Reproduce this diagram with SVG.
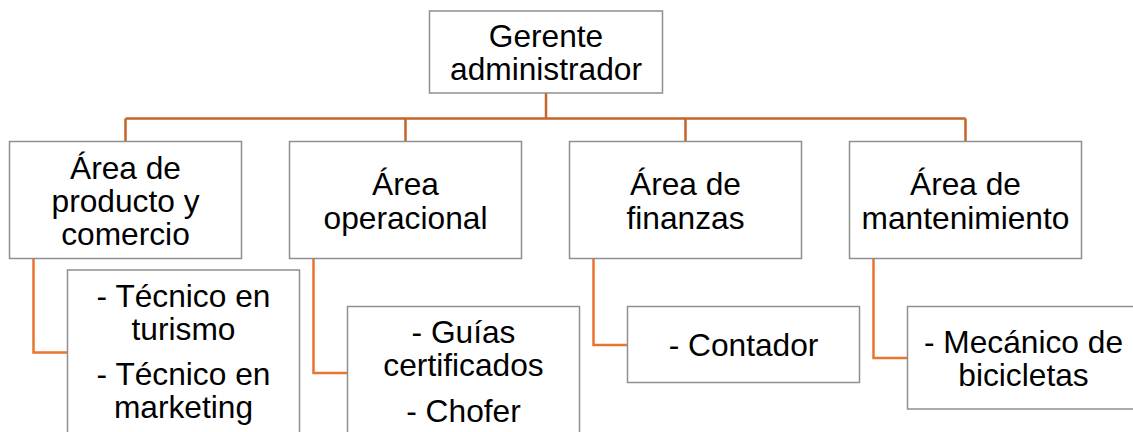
<svg xmlns="http://www.w3.org/2000/svg" width="1133" height="432" viewBox="0 0 1133 432">
<style>
.box{fill:#ffffff;stroke:#8f8f8f;stroke-width:1.5}
.t{font-family:"Liberation Sans",Arial,sans-serif;font-size:31.7px;fill:#000000;text-anchor:middle}
.c1{fill:none;stroke:#c5652a;stroke-width:2.5}
.c2{fill:none;stroke:#e8742e;stroke-width:2.5}
</style>
<rect width="1133" height="432" fill="#ffffff"/>
<g id="connectors">
<path class="c1" d="M546 93 V118.5 M125.5 118.5 H965.5 M125.5 118.5 V141.5 M405.5 118.5 V141.5 M685.5 118.5 V141.5 M965.5 118.5 V141.5"/>
<path class="c2" d="M33.5 258.5 V352.5 H67.5"/>
<path class="c2" d="M313.5 258.5 V373 H347.5"/>
<path class="c2" d="M593.5 258.5 V345 H627.5"/>
<path class="c2" d="M873.5 258.5 V358 H907.5"/>
</g>
<g id="gerente">
<rect class="box" x="429.5" y="11" width="233" height="82"/>
<text class="t" x="546" y="47">Gerente</text>
<text class="t" x="546" y="80">administrador</text>
</g>
<g id="area-producto">
<rect class="box" x="9.5" y="141.5" width="232" height="117"/>
<text class="t" x="125.5" y="179">Área de</text>
<text class="t" x="125.5" y="212">producto y</text>
<text class="t" x="125.5" y="245">comercio</text>
</g>
<g id="area-operacional">
<rect class="box" x="289.5" y="141.5" width="232" height="117"/>
<text class="t" x="405.5" y="195">Área</text>
<text class="t" x="405.5" y="229">operacional</text>
</g>
<g id="area-finanzas">
<rect class="box" x="569.5" y="141.5" width="232" height="117"/>
<text class="t" x="685.5" y="195">Área de</text>
<text class="t" x="685.5" y="229">finanzas</text>
</g>
<g id="area-mantenimiento">
<rect class="box" x="849.5" y="141.5" width="232" height="117"/>
<text class="t" x="965.5" y="195">Área de</text>
<text class="t" x="965.5" y="229">mantenimiento</text>
</g>
<g id="tecnicos">
<rect class="box" x="67.5" y="270" width="232" height="170"/>
<text class="t" x="183.5" y="307">- Técnico en</text>
<text class="t" x="183.5" y="340">turismo</text>
<text class="t" x="183.5" y="385">- Técnico en</text>
<text class="t" x="183.5" y="418">marketing</text>
</g>
<g id="guias">
<rect class="box" x="347.5" y="306.5" width="232" height="135"/>
<text class="t" x="463.5" y="343">- Guías</text>
<text class="t" x="463.5" y="376">certificados</text>
<text class="t" x="463.5" y="422">- Chofer</text>
</g>
<g id="contador">
<rect class="box" x="627.5" y="306.5" width="232" height="76"/>
<text class="t" x="743.5" y="356">- Contador</text>
</g>
<g id="mecanico">
<rect class="box" x="907.5" y="306.5" width="232" height="102.5"/>
<text class="t" x="1023.5" y="353">- Mecánico de</text>
<text class="t" x="1023.5" y="386">bicicletas</text>
</g>
</svg>
